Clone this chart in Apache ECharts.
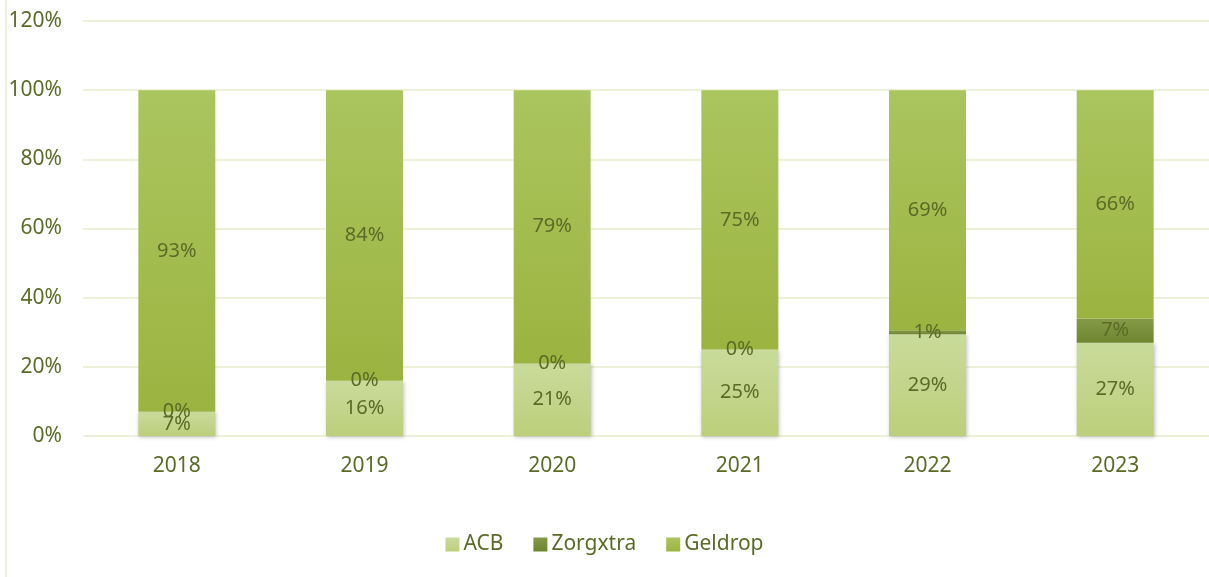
<!DOCTYPE html>
<html>
<head>
<meta charset="utf-8">
<script src="https://cdn.jsdelivr.net/npm/echarts@6/dist/echarts.min.js"></script>
<style>
  html, body { margin: 0; padding: 0; background: #fff; }
  #chart { width: 1209px; height: 577px; }
</style>
</head>
<body>
<div id="chart"></div>
<script>
// categories and series (percentages)
const years = ['2018', '2019', '2020', '2021', '2022', '2023'];
const acb = [7, 16, 21, 25, 29.4, 27];
const zorgxtra = [0, 0, 0, 0, 1.2, 7];
const geldrop = [93, 84, 79, 75, 69.4, 66];
const yTicks = [0, 20, 40, 60, 80, 100, 120];

const textColor = '#5b6b27';
const font = "'Noto Sans', sans-serif";

function grad(top, bottom) {
  return new echarts.graphic.LinearGradient(0, 0, 0, 1, [
    { offset: 0, color: top },
    { offset: 1, color: bottom },
  ]);
}

const label = {
  show: true,
  position: 'inside',
  color: textColor,
  fontSize: 20,
  fontFamily: font,
  formatter: (p) => Math.round(p.value) + '%',
};

const shadow = {
  shadowColor: 'rgba(0,0,0,0.25)',
  shadowBlur: 4,
  shadowOffsetX: 1,
  shadowOffsetY: 1,
};

const chart = echarts.init(document.getElementById('chart'));
chart.setOption({
  animation: false,
  graphic: [
    {
      type: 'line',
      shape: { x1: 6, y1: 0, x2: 6, y2: 577 },
      style: { stroke: '#eef1d9', lineWidth: 2 },
    },
  ],
  grid: {
    left: 83,
    right: -3,
    top: 21,
    bottom: 141,
  },
  legend: {
    bottom: 17,
    left: 'center',
    itemWidth: 14,
    itemHeight: 14,
    itemGap: 30,
    icon: 'rect',
    textStyle: { color: textColor, fontSize: 21, fontFamily: font, padding: [0, 0, 0, -1] },
    data: ['ACB', 'Zorgxtra', 'Geldrop'],
  },
  xAxis: {
    type: 'category',
    data: years,
    axisTick: { show: false },
    axisLine: { show: false },
    axisLabel: {
      color: textColor,
      fontSize: 21,
      fontFamily: font,
      margin: 20,
    },
  },
  yAxis: {
    type: 'value',
    min: yTicks[0],
    max: yTicks[yTicks.length - 1],
    interval: 20,
    axisLine: { show: false },
    axisTick: { show: false },
    splitLine: { lineStyle: { color: '#eef1d9', width: 2 } },
    axisLabel: {
      color: textColor,
      fontSize: 21,
      fontFamily: font,
      margin: 21,
      formatter: '{value}%',
    },
  },
  series: [
    {
      name: 'ACB',
      type: 'bar',
      stack: 'total',
      barWidth: 77,
      data: acb,
      label,
      itemStyle: Object.assign({ color: grad('#c9db9a', '#bccf7b') }, shadow),
    },
    {
      name: 'Zorgxtra',
      type: 'bar',
      stack: 'total',
      barWidth: 77,
      data: zorgxtra,
      label,
      itemStyle: { color: grad('#849a47', '#6f862f') },
    },
    {
      name: 'Geldrop',
      type: 'bar',
      stack: 'total',
      barWidth: 77,
      data: geldrop,
      label,
      itemStyle: { color: grad('#abc55f', '#9bb440') },
    },
  ],
});
</script>
</body>
</html>
